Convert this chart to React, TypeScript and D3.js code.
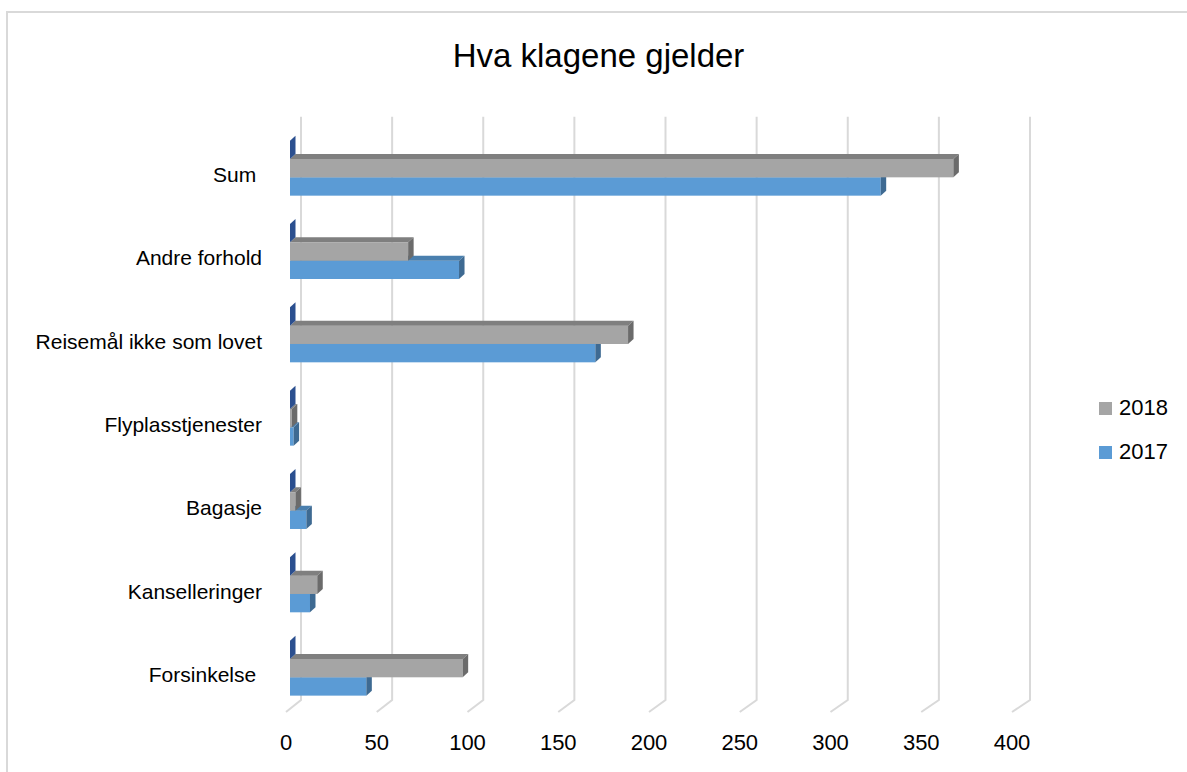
import React, { useEffect } from "react";
import * as d3 from "d3";

// category order as in the sheet (bottom to top in the chart)
const categories = [
  "Forsinkelse ",
  "Kanselleringer",
  "Bagasje",
  "Flyplasstjenester",
  "Reisemål ikke som lovet",
  "Andre forhold",
  "Sum ",
];
const values2017 = [42, 11, 9, 2, 168, 93, 325];
const values2018 = [95, 15, 3, 1, 186, 65, 365];
const valuesSerie3 = [0, 0, 0, 0, 0, 0, 0];
const seriesNames = ["2017", "2018", "Serie3"];
const legendNames = ["2018", "2017"];
const xTicks = [0, 50, 100, 150, 200, 250, 300, 350, 400];

const W = 1187;
const H = 772;
const FONT = "'Liberation Sans', Arial, sans-serif";

const faces: Record<string, { front: string; top: string; side: string }> = {
  "2017": { front: "#5b9bd5", top: "#4a7fae", side: "#3e6a92" },
  "2018": { front: "#a5a5a5", top: "#7f7f7f", side: "#6b6b6b" },
  Serie3: { front: "#4472c4", top: "#2f5597", side: "#2b4f8f" },
};

const DX = 5.5; // 3d depth offset
const DY = 5;

const App = () => {
  useEffect(() => {
    document.body.style.margin = "0";
    document.body.style.overflow = "hidden";
  }, []);

  const xBar = d3.scaleLinear().domain([0, 400]).range([290, 1017]);
  const xBack = d3.scaleLinear().domain([0, 400]).range([301, 1030]);
  const xFront = d3.scaleLinear().domain([0, 400]).range([286, 1012]);

  const y = d3
    .scaleBand()
    .domain([...categories].reverse())
    .range([126.5, 709.8]);

  // inside a group: Serie3 on top, 2017 at the bottom
  const yInner = d3
    .scaleBand()
    .domain([...seriesNames].reverse())
    .range([0, 55]);

  const seriesValues: Record<string, number[]> = {
    "2017": values2017,
    "2018": values2018,
    Serie3: valuesSerie3,
  };

  const bars: JSX.Element[] = [];
  categories.forEach((cat, i) => {
    const groupTop = y(cat)! + y.bandwidth() / 2 - 27.5;
    seriesNames.forEach((s) => {
      const v = seriesValues[s][i];
      const x0 = xBar(0);
      const x1 = xBar(v);
      const y0 = groupTop + yInner(s)!;
      const y1 = y0 + yInner.bandwidth();
      const c = faces[s];
      bars.push(
        <g key={cat + s}>
          {v > 0 && (
            <rect x={x0} y={y0} width={x1 - x0} height={y1 - y0} fill={c.front} />
          )}
          {v > 0 && (
            <polygon
              points={`${x0},${y0} ${x0 + DX},${y0 - DY} ${x1 + DX},${y0 - DY} ${x1},${y0}`}
              fill={c.top}
            />
          )}
          <polygon
            points={`${x1},${y0} ${x1 + DX},${y0 - DY} ${x1 + DX},${y1 - DY} ${x1},${y1}`}
            fill={c.side}
          />
        </g>
      );
    });
  });

  return (
    <svg
      width={W}
      height={H}
      style={{ position: "fixed", left: 0, top: 0, background: "#fff", display: "block" }}
    >
      <rect x={7} y={12} width={1250} height={850} fill="#fff" stroke="#d9d9d9" strokeWidth={2} />

      <text x={598.5} y={66.7} textAnchor="middle" fontFamily={FONT} fontSize={33} fill="#000">
        Hva klagene gjelder
      </text>

      {/* gridlines with 3d floor edge */}
      {xTicks.map((t) => (
        <polyline
          key={"g" + t}
          points={`${xBack(t)},116.7 ${xBack(t)},700 ${xFront(t)},712`}
          fill="none"
          stroke="#d9d9d9"
          strokeWidth={2}
        />
      ))}

      {bars}

      {categories.map((cat) => (
        <text
          key={"l" + cat}
          x={262}
          y={y(cat)! + y.bandwidth() / 2 + 14}
          textAnchor="end"
          fontFamily={FONT}
          fontSize={21}
          fill="#000"
          style={{ whiteSpace: "pre" }}
        >
          {cat}
        </text>
      ))}

      {xTicks.map((t) => (
        <text
          key={"t" + t}
          x={xFront(t)}
          y={750}
          textAnchor="middle"
          fontFamily={FONT}
          fontSize={22}
          fill="#000"
        >
          {t}
        </text>
      ))}

      {legendNames.map((s, i) => (
        <g key={"lg" + s} transform={`translate(1099,${402 + i * 44})`}>
          <rect width={13} height={13} fill={faces[s].front} />
          <text x={20} y={13} fontFamily={FONT} fontSize={22} fill="#000">
            {s}
          </text>
        </g>
      ))}
    </svg>
  );
};

export default App;
